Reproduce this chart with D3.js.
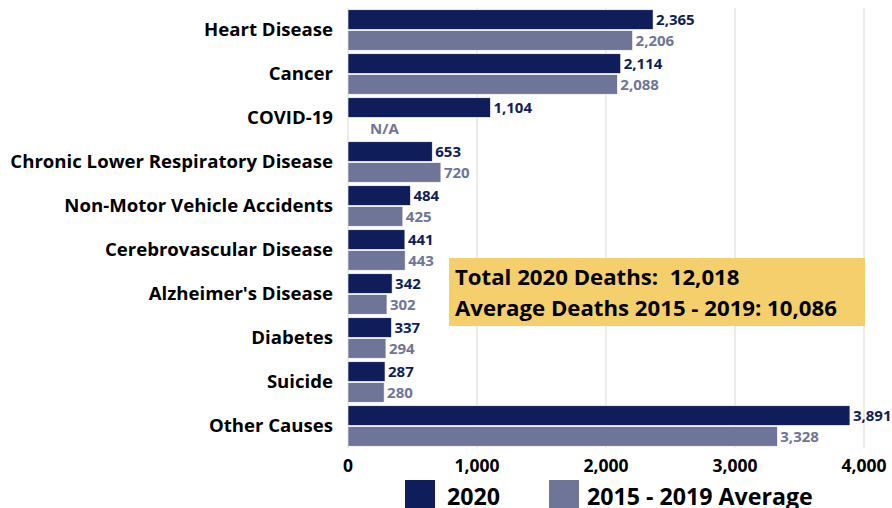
<!DOCTYPE html>
<html>
<head>
<meta charset="utf-8">
<script src="https://cdn.jsdelivr.net/npm/d3@7"></script>
<style>
  body { margin: 0; background: #fff; }
  svg text { font-family: "Open Sans", sans-serif; font-weight: 700; }
</style>
</head>
<body>
<svg id="chart" width="892" height="508"></svg>
<script>
const causes = ['Heart Disease', 'Cancer', 'COVID-19', 'Chronic Lower Respiratory Disease',
  'Non-Motor Vehicle Accidents', 'Cerebrovascular Disease', "Alzheimer's Disease",
  'Diabetes', 'Suicide', 'Other Causes'];
const deaths2020 = [2365, 2114, 1104, 653, 484, 441, 342, 337, 287, 3891];
const deathsAvg = [2206, 2088, null, 720, 425, 443, 302, 294, 280, 3328];
const seriesNames = ['2020', '2015 - 2019 Average'];
const xTicks = [0, 1000, 2000, 3000, 4000];
const summaryLines = ['Total 2020 Deaths:  12,018', 'Average Deaths 2015 - 2019: 10,086'];

const navy = '#0f1d5b', slate = '#6f7599';
const colors = [navy, slate];

const svg = d3.select('#chart');
const plotLeft = 348, plotRight = 864, plotTop = 8, plotBottom = 448;

const x = d3.scaleLinear().domain([0, 4000]).range([plotLeft, plotRight]);
const y = d3.scaleBand().domain(causes).range([plotTop, plotBottom]).paddingInner(0.08).paddingOuter(0.04);
const inner = d3.scaleBand().domain([0, 1]).range([0, y.bandwidth()]).paddingInner(0.06);

// gridlines
svg.append('g')
  .selectAll('line')
  .data(xTicks)
  .join('line')
  .attr('x1', d => x(d)).attr('x2', d => x(d))
  .attr('y1', plotTop).attr('y2', plotBottom)
  .attr('stroke', '#d9d9d9').attr('stroke-width', 1);

const rows = causes.map((c, i) => ({ cause: c, vals: [deaths2020[i], deathsAvg[i]] }));

const g = svg.append('g')
  .selectAll('g')
  .data(rows)
  .join('g')
  .attr('transform', d => `translate(0,${y(d.cause)})`);

g.selectAll('rect')
  .data(d => d.vals.map((v, k) => ({ v, k })).filter(e => e.v != null))
  .join('rect')
  .attr('x', x(0))
  .attr('y', e => inner(e.k))
  .attr('width', e => x(e.v) - x(0))
  .attr('height', inner.bandwidth())
  .attr('fill', e => colors[e.k])
  .attr('stroke', '#fff').attr('stroke-width', 0.6);

g.selectAll('text.val')
  .data(d => d.vals.map((v, k) => ({ v, k })))
  .join('text')
  .attr('class', 'val')
  .attr('x', e => e.v == null ? x(0) + 22 : x(e.v) + 3)
  .attr('y', e => inner(e.k) + inner.bandwidth() / 2)
  .attr('dy', '0.36em')
  .attr('font-size', 15)
  .attr('fill', e => colors[e.k])
  .text(e => e.v == null ? 'N/A' : d3.format(',')(e.v));

// category labels
svg.append('g')
  .selectAll('text')
  .data(causes)
  .join('text')
  .attr('x', 333)
  .attr('y', d => y(d) + y.bandwidth() / 2)
  .attr('dy', '0.33em')
  .attr('text-anchor', 'end')
  .attr('font-size', 18.6)
  .attr('fill', '#000')
  .text(d => d);

// x axis labels
svg.append('g')
  .selectAll('text')
  .data(xTicks)
  .join('text')
  .attr('x', d => x(d))
  .attr('y', 466)
  .attr('dy', '0.36em')
  .attr('text-anchor', 'middle')
  .attr('font-size', 17.5)
  .attr('fill', '#000')
  .text(d3.format(','));

// summary box
svg.append('rect')
  .attr('x', 449).attr('y', 258).attr('width', 416).attr('height', 68)
  .attr('fill', '#f5cf6b');
svg.append('g')
  .selectAll('text')
  .data(summaryLines)
  .join('text')
  .attr('x', 455)
  .attr('y', (d, i) => 277 + i * 31)
  .attr('dy', '0.36em')
  .attr('font-size', 22.2)
  .attr('fill', '#000')
  .style('white-space', 'pre')
  .text(d => d);

// legend
const legendX = [405, 549];
const lg = svg.append('g')
  .selectAll('g')
  .data(seriesNames)
  .join('g')
  .attr('transform', (d, i) => `translate(${legendX[i]},480)`);
lg.append('rect')
  .attr('width', 30).attr('height', 30)
  .attr('fill', (d, i) => colors[i]);
lg.append('text')
  .attr('x', (d, i) => i === 0 ? 42 : 38)
  .attr('y', 24.5)
  .attr('font-size', 23.2)
  .attr('fill', '#000')
  .text(d => d);
</script>
</body>
</html>
